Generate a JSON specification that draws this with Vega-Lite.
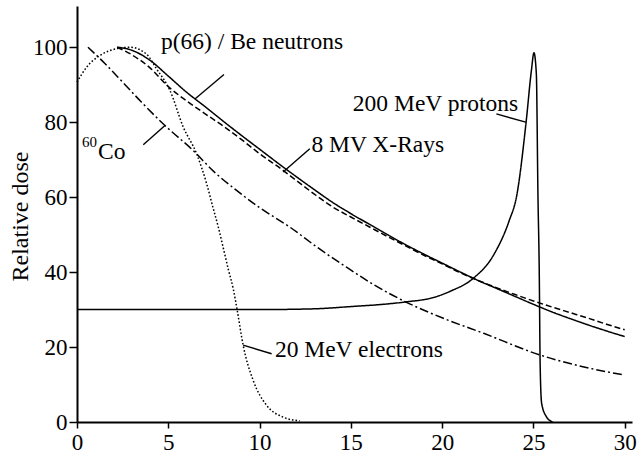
{
  "$schema": "https://vega.github.io/schema/vega-lite/v6.json",
  "width": 555,
  "height": 416,
  "autosize": "none",
  "padding": {"left": 77, "top": 6, "right": 6, "bottom": 32},
  "background": "white",
  "config": {
    "view": {"stroke": null},
    "axis": {"labelFont": "Liberation Serif", "titleFont": "Liberation Serif"},
    "text": {"font": "Liberation Serif"}
  },
  "datasets": {
    "curves": [
      {"series": "neutron", "x": 2.2, "y": 100},
      {"series": "neutron", "x": 3, "y": 99.2},
      {"series": "neutron", "x": 4, "y": 96.5},
      {"series": "neutron", "x": 5, "y": 92.3},
      {"series": "neutron", "x": 6, "y": 88},
      {"series": "neutron", "x": 7, "y": 84.2},
      {"series": "neutron", "x": 8, "y": 80.3},
      {"series": "neutron", "x": 9, "y": 76.5},
      {"series": "neutron", "x": 10, "y": 72.8},
      {"series": "neutron", "x": 11.3, "y": 68},
      {"series": "neutron", "x": 12, "y": 65.5},
      {"series": "neutron", "x": 13, "y": 62},
      {"series": "neutron", "x": 14, "y": 58.6},
      {"series": "neutron", "x": 15, "y": 55.6},
      {"series": "neutron", "x": 16, "y": 52.8},
      {"series": "neutron", "x": 17, "y": 50},
      {"series": "neutron", "x": 18, "y": 47.3},
      {"series": "neutron", "x": 19, "y": 44.8},
      {"series": "neutron", "x": 20, "y": 42.4},
      {"series": "neutron", "x": 21, "y": 40},
      {"series": "neutron", "x": 22, "y": 37.7},
      {"series": "neutron", "x": 23, "y": 35.6},
      {"series": "neutron", "x": 24, "y": 33.5},
      {"series": "neutron", "x": 25, "y": 31.4},
      {"series": "neutron", "x": 26, "y": 29.4},
      {"series": "neutron", "x": 27, "y": 27.6},
      {"series": "neutron", "x": 28, "y": 25.9},
      {"series": "neutron", "x": 29, "y": 24.3},
      {"series": "neutron", "x": 30, "y": 22.8},
      {"series": "xray", "x": 2.2, "y": 100},
      {"series": "xray", "x": 3, "y": 98},
      {"series": "xray", "x": 4, "y": 94.5},
      {"series": "xray", "x": 5, "y": 89.5},
      {"series": "xray", "x": 6, "y": 85.7},
      {"series": "xray", "x": 7, "y": 82.3},
      {"series": "xray", "x": 8, "y": 79},
      {"series": "xray", "x": 9, "y": 75.4},
      {"series": "xray", "x": 10, "y": 71.6},
      {"series": "xray", "x": 11.3, "y": 67.1},
      {"series": "xray", "x": 12, "y": 64.5},
      {"series": "xray", "x": 13, "y": 60.8},
      {"series": "xray", "x": 14, "y": 57.4},
      {"series": "xray", "x": 15, "y": 54.7},
      {"series": "xray", "x": 16, "y": 52.1},
      {"series": "xray", "x": 17, "y": 49.5},
      {"series": "xray", "x": 18, "y": 47},
      {"series": "xray", "x": 19, "y": 44.5},
      {"series": "xray", "x": 20, "y": 42.2},
      {"series": "xray", "x": 21, "y": 39.8},
      {"series": "xray", "x": 22, "y": 37.7},
      {"series": "xray", "x": 23, "y": 35.8},
      {"series": "xray", "x": 24, "y": 34},
      {"series": "xray", "x": 25, "y": 32.3},
      {"series": "xray", "x": 26, "y": 30.7},
      {"series": "xray", "x": 27, "y": 29.2},
      {"series": "xray", "x": 28, "y": 27.7},
      {"series": "xray", "x": 29, "y": 26.1},
      {"series": "xray", "x": 30, "y": 24.6},
      {"series": "cobalt", "x": 0.6, "y": 100},
      {"series": "cobalt", "x": 1.5, "y": 95.8},
      {"series": "cobalt", "x": 2.5, "y": 90.7},
      {"series": "cobalt", "x": 3.5, "y": 85.5},
      {"series": "cobalt", "x": 4.82, "y": 79.1},
      {"series": "cobalt", "x": 6.35, "y": 72.5},
      {"series": "cobalt", "x": 7.5, "y": 66.8},
      {"series": "cobalt", "x": 8.74, "y": 61.8},
      {"series": "cobalt", "x": 10, "y": 57.2},
      {"series": "cobalt", "x": 11.66, "y": 52},
      {"series": "cobalt", "x": 13.19, "y": 46.5},
      {"series": "cobalt", "x": 14.76, "y": 41.3},
      {"series": "cobalt", "x": 16.3, "y": 36.5},
      {"series": "cobalt", "x": 17.94, "y": 32.2},
      {"series": "cobalt", "x": 20, "y": 27.8},
      {"series": "cobalt", "x": 22.31, "y": 23.6},
      {"series": "cobalt", "x": 25.41, "y": 17.8},
      {"series": "cobalt", "x": 27.5, "y": 15},
      {"series": "cobalt", "x": 30, "y": 12.5},
      {"series": "electron", "x": 0, "y": 90.7},
      {"series": "electron", "x": 0.53, "y": 94.7},
      {"series": "electron", "x": 1.26, "y": 97.8},
      {"series": "electron", "x": 2.17, "y": 99.6},
      {"series": "electron", "x": 2.9, "y": 100},
      {"series": "electron", "x": 3.8, "y": 98.2},
      {"series": "electron", "x": 4.36, "y": 94.2},
      {"series": "electron", "x": 5.09, "y": 88.5},
      {"series": "electron", "x": 5.82, "y": 78.7},
      {"series": "electron", "x": 6.55, "y": 71.6},
      {"series": "electron", "x": 7.1, "y": 63.6},
      {"series": "electron", "x": 7.46, "y": 57},
      {"series": "electron", "x": 7.74, "y": 52},
      {"series": "electron", "x": 8.01, "y": 46.5},
      {"series": "electron", "x": 8.3, "y": 40.5},
      {"series": "electron", "x": 8.56, "y": 35.5},
      {"series": "electron", "x": 8.77, "y": 30},
      {"series": "electron", "x": 9.1, "y": 20.5},
      {"series": "electron", "x": 9.65, "y": 11.1},
      {"series": "electron", "x": 10.38, "y": 4.5},
      {"series": "electron", "x": 11.29, "y": 1.3},
      {"series": "electron", "x": 12.2, "y": 0.3},
      {"series": "proton", "x": 0, "y": 30},
      {"series": "proton", "x": 5, "y": 30},
      {"series": "proton", "x": 10, "y": 30},
      {"series": "proton", "x": 13, "y": 30.2},
      {"series": "proton", "x": 15, "y": 30.8},
      {"series": "proton", "x": 17, "y": 31.5},
      {"series": "proton", "x": 17.94, "y": 32},
      {"series": "proton", "x": 19.58, "y": 33.3},
      {"series": "proton", "x": 20.5, "y": 35},
      {"series": "proton", "x": 21.67, "y": 38.2},
      {"series": "proton", "x": 22.86, "y": 44.9},
      {"series": "proton", "x": 23.68, "y": 53.8},
      {"series": "proton", "x": 24.07, "y": 60},
      {"series": "proton", "x": 24.61, "y": 80.5},
      {"series": "proton", "x": 24.89, "y": 93.8},
      {"series": "proton", "x": 25.03, "y": 98.5},
      {"series": "proton", "x": 25.16, "y": 92.9},
      {"series": "proton", "x": 25.25, "y": 60},
      {"series": "proton", "x": 25.32, "y": 40},
      {"series": "proton", "x": 25.37, "y": 15},
      {"series": "proton", "x": 25.45, "y": 5},
      {"series": "proton", "x": 25.7, "y": 1.5},
      {"series": "proton", "x": 26.05, "y": 0}
    ],
    "pointers": [
      {"x": 6.46, "y": 86.2, "x2": 8.05, "y2": 92.7},
      {"x": 3.63, "y": 74.0, "x2": 4.82, "y2": 79.1},
      {"x": 11.29, "y": 66.7, "x2": 12.75, "y2": 72.9},
      {"x": 22.97, "y": 82.2, "x2": 24.58, "y2": 80.0},
      {"x": 9.1, "y": 20.5, "x2": 10.66, "y2": 18.2}
    ],
    "labels": [
      {"text": "p(66) / Be neutrons", "x": 4.6, "y": 99.5},
      {"text": "8 MV X-Rays", "x": 12.84, "y": 72.05},
      {"text": "200 MeV protons", "x": 15.11, "y": 83.1},
      {"text": "Co", "x": 1.15, "y": 70.3},
      {"text": "20 MeV electrons", "x": 10.84, "y": 17.3}
    ],
    "sups": [
      {"text": "60", "x": 0.27, "y": 73.3}
    ]
  },
  "layer": [
    {
      "data": {"name": "curves"},
      "mark": {"type": "line", "color": "black", "interpolate": "monotone"},
      "encoding": {
        "x": {
          "field": "x", "type": "quantitative",
          "scale": {"domain": [0, 30.4], "nice": false, "zero": false},
          "axis": {
            "values": [0, 5, 10, 15, 20, 25, 30],
            "title": null, "grid": false,
            "domainColor": "black", "domainWidth": 2,
            "tickColor": "black", "tickWidth": 1.5, "tickSize": 6,
            "labelFont": "Liberation Serif", "labelFontSize": 23, "labelColor": "black",
            "labelPadding": 3, "labelFlush": false
          }
        },
        "y": {
          "field": "y", "type": "quantitative",
          "scale": {"domain": [0, 111], "nice": false, "zero": false},
          "axis": {
            "values": [0, 10, 20, 30, 40, 50, 60, 70, 80, 90, 100, 110],
            "labelExpr": "datum.value % 20 === 0 && datum.value <= 100 ? datum.label : ''",
            "grid": false,
            "domainColor": "black", "domainWidth": 2,
            "tickColor": "black", "tickWidth": 1.5,
            "tickSize": {"condition": {"test": "datum.value % 20 === 0", "value": 8}, "value": 4},
            "labelFont": "Liberation Serif", "labelFontSize": 23, "labelColor": "black",
            "labelPadding": 2,
            "title": "Relative dose",
            "titleFont": "Liberation Serif", "titleFontSize": 24, "titleFontWeight": "normal",
            "titleColor": "black",
            "titleX": -50, "titleY": 210, "titleBaseline": "alphabetic", "titleAlign": "center"
          }
        },
        "detail": {"field": "series"},
        "strokeDash": {
          "field": "series", "type": "nominal",
          "scale": {
            "domain": ["neutron", "xray", "cobalt", "electron", "proton"],
            "range": [[1, 0], [6, 3], [9, 3, 2, 3], [1.6, 2], [1, 0]]
          },
          "legend": null
        },
        "strokeWidth": {
          "field": "series", "type": "nominal",
          "scale": {
            "domain": ["neutron", "xray", "cobalt", "electron", "proton"],
            "range": [1.5, 1.5, 1.5, 2.2, 1.5]
          },
          "legend": null
        }
      }
    },
    {
      "data": {"name": "pointers"},
      "mark": {"type": "rule", "color": "black", "strokeWidth": 1.4},
      "encoding": {
        "x": {"field": "x", "type": "quantitative"},
        "y": {"field": "y", "type": "quantitative"},
        "x2": {"field": "x2"},
        "y2": {"field": "y2"}
      }
    },
    {
      "data": {"name": "labels"},
      "mark": {"type": "text", "align": "left", "baseline": "alphabetic", "font": "Liberation Serif", "fontSize": 23.5, "color": "black"},
      "encoding": {
        "x": {"field": "x", "type": "quantitative"},
        "y": {"field": "y", "type": "quantitative"},
        "text": {"field": "text"}
      }
    },
    {
      "data": {"name": "sups"},
      "mark": {"type": "text", "align": "left", "baseline": "alphabetic", "font": "Liberation Serif", "fontSize": 15, "color": "black"},
      "encoding": {
        "x": {"field": "x", "type": "quantitative"},
        "y": {"field": "y", "type": "quantitative"},
        "text": {"field": "text"}
      }
    }
  ]
}
